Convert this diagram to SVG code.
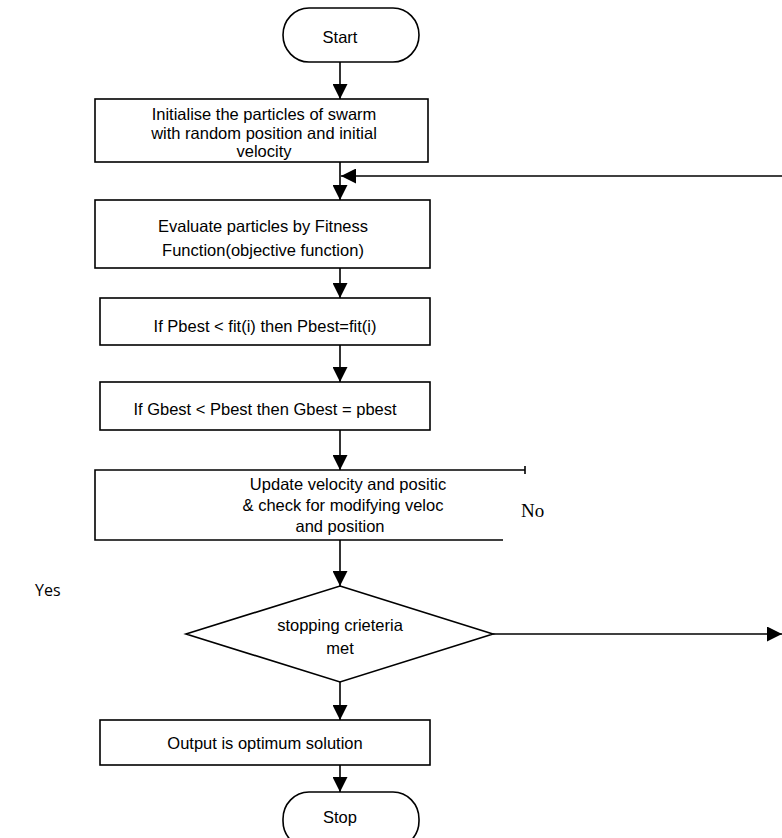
<svg xmlns="http://www.w3.org/2000/svg" width="782" height="838" viewBox="0 0 782 838">
<style>
.b{fill:#fff;stroke:#000;stroke-width:1.6}
.t{font-family:"Liberation Sans",Arial,sans-serif;font-size:16.5px;fill:#000;text-anchor:middle}
.c{stroke:#000;stroke-width:1.6;fill:none}
</style>
<defs>
<marker id="ab" viewBox="0 0 10 10" refX="10" refY="5" markerWidth="15" markerHeight="15" markerUnits="userSpaceOnUse" orient="auto"><path d="M0,0L10,5L0,10z" fill="#000"/></marker>
</defs>
<rect width="782" height="838" fill="#fff"/>
<g id="connectors">
<line class="c" x1="340" y1="62" x2="340" y2="99" marker-end="url(#ab)"/>
<line class="c" x1="340" y1="162" x2="340" y2="200" marker-end="url(#ab)"/>
<line class="c" x1="782" y1="176" x2="341" y2="176" marker-end="url(#ab)"/>
<line class="c" x1="340" y1="268" x2="340" y2="298" marker-end="url(#ab)"/>
<line class="c" x1="340" y1="345" x2="340" y2="382" marker-end="url(#ab)"/>
<line class="c" x1="340" y1="430" x2="340" y2="470" marker-end="url(#ab)"/>
<line class="c" x1="340" y1="540" x2="340" y2="586" marker-end="url(#ab)"/>
<line class="c" x1="493" y1="634" x2="782" y2="634" marker-end="url(#ab)"/>
<line class="c" x1="340" y1="682" x2="340" y2="720" marker-end="url(#ab)"/>
<line class="c" x1="340" y1="765" x2="340" y2="792" marker-end="url(#ab)"/>
</g>
<g id="start">
<rect class="b" x="283" y="8" width="136" height="54" rx="26" ry="27"/>
<text class="t" x="340" y="43">Start</text>
</g>
<g id="init">
<rect class="b" x="95" y="99" width="333" height="63"/>
<text class="t" x="264" y="120">Initialise the particles of swarm</text>
<text class="t" x="264" y="139">with random position and initial</text>
<text class="t" x="264" y="157">velocity</text>
</g>
<g id="evaluate">
<rect class="b" x="95" y="200" width="335" height="68"/>
<text class="t" x="263" y="232">Evaluate particles by Fitness</text>
<text class="t" x="263" y="256">Function(objective function)</text>
</g>
<g id="pbest">
<rect class="b" x="100" y="298" width="330" height="47"/>
<text class="t" x="265" y="332">If Pbest &lt; fit(i) then Pbest=fit(i)</text>
</g>
<g id="gbest">
<rect class="b" x="100" y="382" width="330" height="48"/>
<text class="t" x="265" y="415">If Gbest &lt; Pbest then Gbest = pbest</text>
</g>
<g id="update">
<path class="c" d="M525,470H95V540H503"/>
<line class="c" x1="525" y1="466" x2="525" y2="474"/>
<text class="t" x="348" y="490">Update velocity and positic</text>
<text class="t" x="343" y="511">&amp; check for modifying veloc</text>
<text class="t" x="340" y="532">and position</text>
<text x="521" y="517" style="font-family:'Liberation Serif',serif;font-size:19px">No</text>
</g>
<g id="decision">
<polygon class="b" points="340,586 493,634 340,682 186,634"/>
<text class="t" x="340" y="631">stopping crieteria</text>
<text class="t" x="340" y="654">met</text>
</g>
<text x="35" y="596" style="font-family:'Open Sans','Liberation Sans',sans-serif;font-size:16px">Yes</text>
<g id="output">
<rect class="b" x="100" y="720" width="330" height="45"/>
<text class="t" x="265" y="749">Output is optimum solution</text>
</g>
<g id="stop">
<rect class="b" x="283" y="792" width="136" height="56" rx="26" ry="27"/>
<text class="t" x="340" y="823">Stop</text>
</g>
</svg>
